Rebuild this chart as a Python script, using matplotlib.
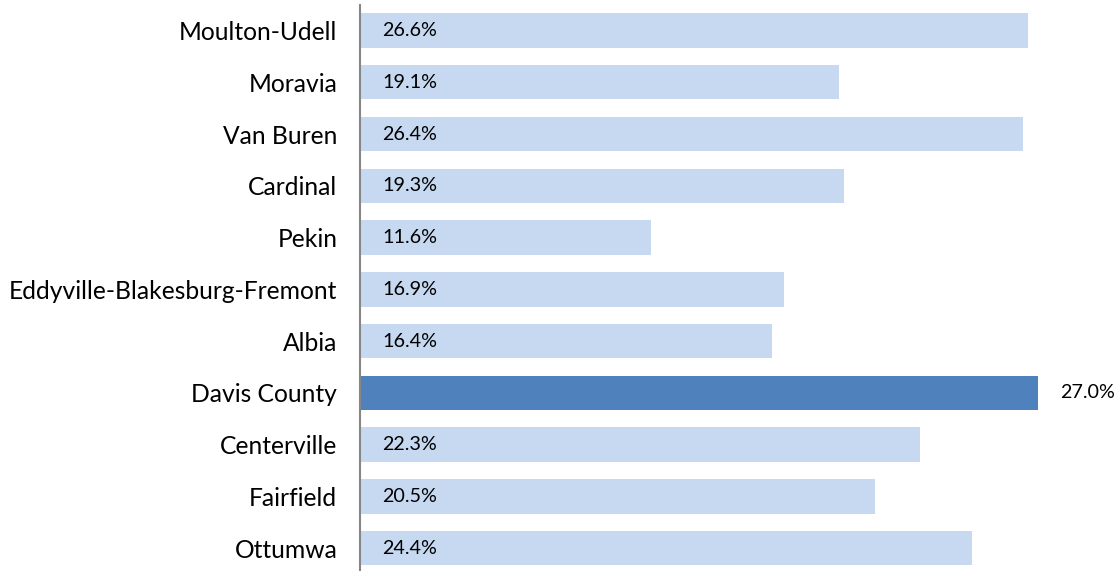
import matplotlib
matplotlib.use("Agg")
import matplotlib.pyplot as plt

categories = ["Moulton-Udell", "Moravia", "Van Buren", "Cardinal", "Pekin",
              "Eddyville-Blakesburg-Fremont", "Albia", "Davis County",
              "Centerville", "Fairfield", "Ottumwa"]
values = [26.6, 19.1, 26.4, 19.3, 11.6, 16.9, 16.4, 27.0, 22.3, 20.5, 24.4]
highlight = "Davis County"

light = "#C6D9F1"
dark = "#4F81BD"

W, H = 1117, 571
row = 51.77
top_px = 30.5 - 0.5 * row
bot_px = 548.2 + 0.5 * row
px_per_unit = (1037.7 - 360.0) / 27.0

fig = plt.figure(figsize=(W / 100, H / 100), dpi=100)
ax = fig.add_axes([360.0 / W, (H - bot_px) / H, 30 * px_per_unit / W, (bot_px - top_px) / H])

ypos = list(range(len(categories)))
colors = [dark if c == highlight else light for c in categories]
ax.barh(ypos, values, height=0.665, color=colors, zorder=2)
ax.set_ylim(len(categories) - 0.5, -0.5)
ax.set_xlim(0, 30)

ax.set_yticks(ypos)
ax.set_yticklabels(categories, fontsize=17.7, fontfamily="Lato", color="#000000")
ax.tick_params(axis="y", length=0, pad=16.3)
ax.set_xticks([])
for s in ["top", "right", "bottom"]:
    ax.spines[s].set_visible(False)
ax.spines["left"].set_color("#868686")
ax.spines["left"].set_linewidth(1.5)

for y, v, c in zip(ypos, values, categories):
    x0 = v if c == highlight else 0
    ax.annotate(f"{v:.1f}%", xy=(x0, y), xytext=(16.2, 0), textcoords="offset points",
                va="center", ha="left", fontsize=14.2, fontfamily="Lato", color="#000000")

fig.savefig("out.png", dpi=100)
